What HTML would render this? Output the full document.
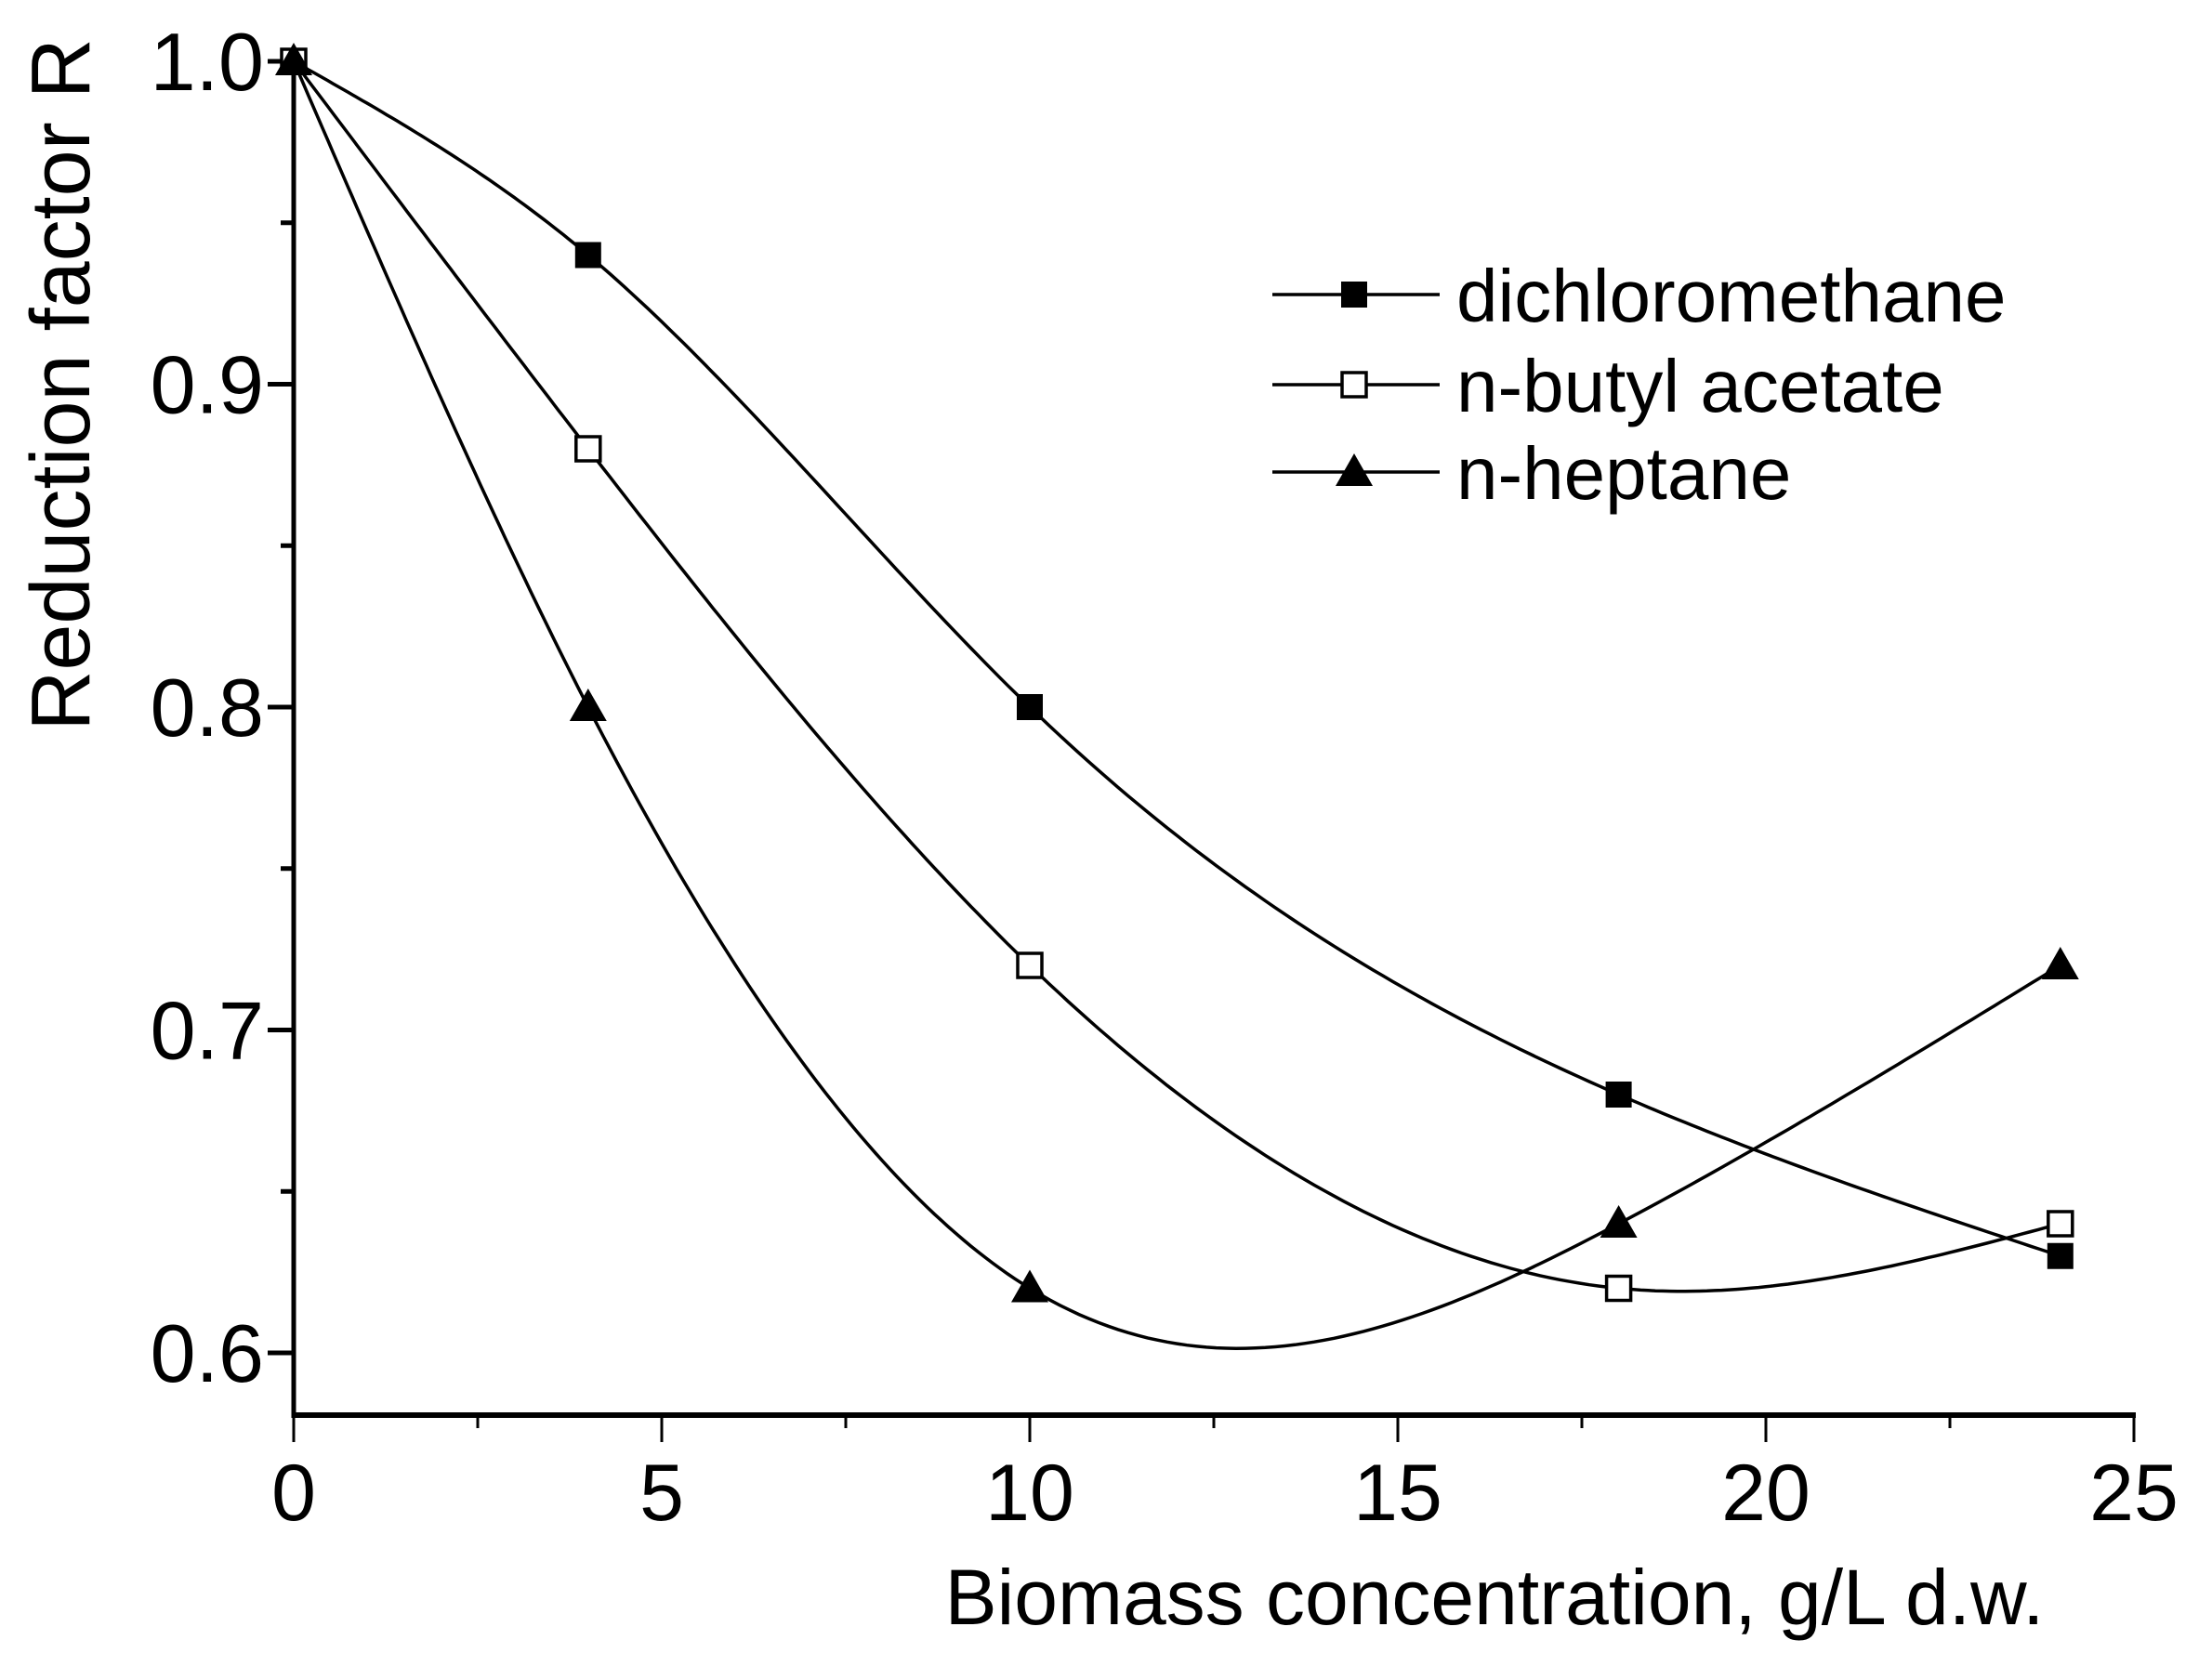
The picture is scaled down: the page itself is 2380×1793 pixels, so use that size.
<!DOCTYPE html>
<html><head><meta charset="utf-8"><style>
html,body{margin:0;padding:0;background:#fff}
svg{display:block}
text{font-family:"Liberation Sans",sans-serif;fill:#000}
</style></head><body>
<svg id="s" width="2380" height="1793" viewBox="0 0 2380 1793" xmlns="http://www.w3.org/2000/svg">
<g id="ax" stroke="#000" fill="none"></g>
<g id="series"></g>
<text x="66" y="414" font-size="90" text-anchor="middle" transform="rotate(-90 66 414)" dominant-baseline="central">Reduction factor R</text>
<text x="1608" y="1748" font-size="84" text-anchor="middle">Biomass concentration, g/L d.w.</text>
<g id="leg"></g>
</svg>
<script>
var NS="http://www.w3.org/2000/svg";
function X(x){return 316+x*79.2;}
function Y(v){return 66+(1-v)*3475;}
function el(p,t,a,txt){var e=document.createElementNS(NS,t);for(var k in a)e.setAttribute(k,a[k]);if(txt!==undefined)e.textContent=txt;p.appendChild(e);return e;}
var s=document.getElementById('s'),ax=document.getElementById('ax');
el(ax,'line',{x1:316,y1:1523,x2:X(25)+2,y2:1523,'stroke-width':6});
el(ax,'line',{x1:316,y1:60,x2:316,y2:1526,'stroke-width':5});
for(var i=0;i<=10;i++){var x=X(i*2.5);var maj=i%2==0;
 el(ax,'line',{x1:x,y1:1523,x2:x,y2:1523+(maj?29:14),'stroke-width':3});
 if(maj)el(s,'text',{x:x,y:1636,'font-size':86,'text-anchor':'middle'},String(i*2.5));}
for(var k=0;k<=8;k++){var v=1-k*0.05;var y=Y(v);var maj=k%2==0;
 el(ax,'line',{x1:316,y1:y,x2:316-(maj?28:14),y2:y,'stroke-width':5});
 if(maj)el(s,'text',{x:284,y:y+31,'font-size':88,'text-anchor':'end'},v.toFixed(1));}
function spline(xs,ys){var n=xs.length-1,h=[],al=[],l=[1],mu=[0],z=[0],c=[],b=[],d=[];
 for(var i=0;i<n;i++)h[i]=xs[i+1]-xs[i];
 for(var i=1;i<n;i++)al[i]=3/h[i]*(ys[i+1]-ys[i])-3/h[i-1]*(ys[i]-ys[i-1]);
 for(var i=1;i<n;i++){l[i]=2*(xs[i+1]-xs[i-1])-h[i-1]*mu[i-1];mu[i]=h[i]/l[i];z[i]=(al[i]-h[i-1]*z[i-1])/l[i];}
 c[n]=0;for(var j=n-1;j>=0;j--){c[j]=z[j]-mu[j]*c[j+1];b[j]=(ys[j+1]-ys[j])/h[j]-h[j]*(c[j+1]+2*c[j])/3;d[j]=(c[j+1]-c[j])/(3*h[j]);}
 var pts=[];for(var i=0;i<n;i++){for(var t=0;t<=60;t++){var dx=h[i]*t/60;pts.push(X(xs[i]+dx).toFixed(1)+','+Y(ys[i]+b[i]*dx+c[i]*dx*dx+d[i]*dx*dx*dx).toFixed(1));}}
 return 'M'+pts.join('L');}
var xs=[0,4,10,18,24];
var data=[[1,.94,.8,.68,.63],[1,.88,.72,.62,.64],[1,.8,.62,.64,.72]];
var g=document.getElementById('series');
function marker(p,type,cx,cy){
 if(type==0)el(p,'rect',{x:cx-14,y:cy-14,width:28,height:28,fill:'#000'});
 else if(type==1)el(p,'rect',{x:cx-13,y:cy-13,width:26,height:26,fill:'#fff',stroke:'#000','stroke-width':3.5});
 else el(p,'polygon',{points:(cx)+','+(cy-20)+' '+(cx+20)+','+(cy+15)+' '+(cx-20)+','+(cy+15),fill:'#000'});}
data.forEach(function(ys,t){el(g,'path',{d:spline(xs,ys),fill:'none',stroke:'#000','stroke-width':3.5});});
data.forEach(function(ys,t){for(var i=0;i<5;i++)marker(g,t,X(xs[i]),Y(ys[i]));});
var lg=document.getElementById('leg'),names=['dichloromethane','n-butyl acetate','n-heptane'],ly=[317,414,508];
for(var t=0;t<3;t++){el(lg,'line',{x1:1369,y1:ly[t],x2:1549,y2:ly[t],stroke:'#000','stroke-width':3.5});marker(lg,t,1457,ly[t]);
 el(lg,'text',{x:1567,y:ly[t]+29,'font-size':80},names[t]);}
</script>
</body></html>
